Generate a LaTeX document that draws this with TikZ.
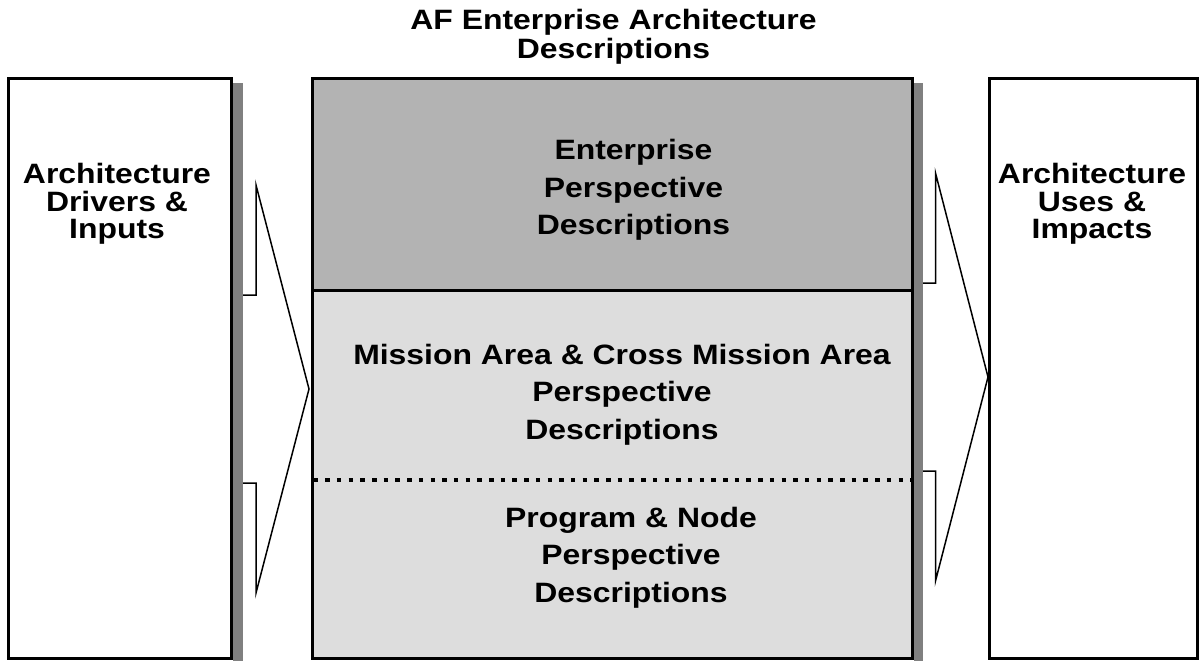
\documentclass[tikz,border=0pt]{standalone}
\usepackage{fontspec}
\setmainfont{Liberation Sans}[FakeStretch=1.14]
\definecolor{shadowgray}{HTML}{808080}
\definecolor{entgray}{HTML}{B3B3B3}
\definecolor{misgray}{HTML}{DDDDDD}
\tikzset{
  boxline/.style={draw=black,line width=3pt,inner sep=0pt,rectangle},
  chev/.style={draw=black,line width=1.5pt,line join=miter},
  dotline/.style={draw=black,line width=4.5pt,dash pattern=on 4.5pt off 7.2pt},
  lbl/.style={align=center,inner sep=0pt,anchor=north,text=black},
  tightlbl/.style={lbl,font=\bfseries\fontsize{28}{27.7}\selectfont},
  widelbl/.style={lbl,font=\bfseries\fontsize{28}{37.5}\selectfont},
  ttllbl/.style={lbl,font=\bfseries\fontsize{28}{29}\selectfont}
}
\begin{document}
\begin{tikzpicture}[x=1pt,y=-1pt]
\useasboundingbox (0,0) rectangle (1199,661);
% shadows
\fill[shadowgray] (233,83) rectangle (243,661);
\fill[shadowgray] (914,83) rectangle (923,661);
% boxes
\node[boxline,fill=white,minimum width=223pt,minimum height=580pt] (inbox) at (120,368.5) {};
\node[boxline,fill=entgray,minimum width=600pt,minimum height=211.5pt] (ent) at (612,184.25) {};
\node[boxline,fill=misgray,minimum width=600pt,minimum height=368.5pt] (mis) at (612,474.25) {};
\node[boxline,fill=white,minimum width=208.5pt,minimum height=580pt] (outbox) at (1093.25,368.5) {};
% dotted divider
\draw[dotline] (313.5,480) -- (910.5,480);
% chevron arrows
\draw[chev] (243,295) -- (256,295) -- (256,185) -- (309,389) -- (256,593) -- (256,483) -- (243,483);
\draw[chev] (923,283) -- (935.5,283) -- (935.5,173) -- (988,377) -- (935.5,581) -- (935.5,471) -- (923,471);
% texts
\node[ttllbl] (title) at (613.5,9) {AF Enterprise Architecture\\Descriptions};
\node[tightlbl] (intext) at (117,163) {Architecture\\Drivers \&\\Inputs};
\node[widelbl] (enttext) at (633.5,139.3) {Enterprise\\Perspective\\Descriptions};
\node[widelbl] (mistext) at (622,344) {Mission Area \& Cross Mission Area\\Perspective\\Descriptions};
\node[widelbl] (progtext) at (631,506.7) {Program \& Node\\Perspective\\Descriptions};
\node[tightlbl] (outtext) at (1092,163) {Architecture\\Uses \&\\Impacts};
\end{tikzpicture}
\end{document}
